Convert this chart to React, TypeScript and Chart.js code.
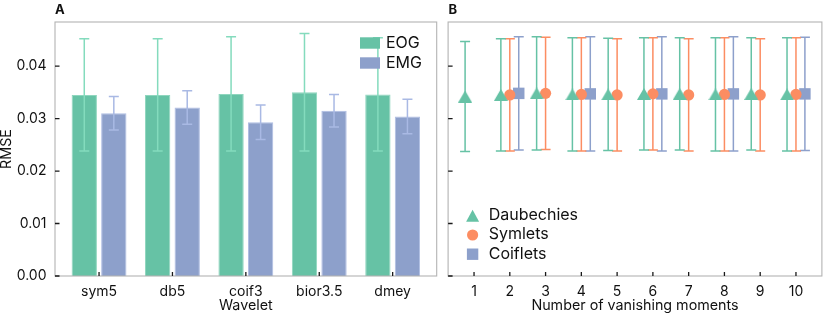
import React, { useEffect, useRef } from "react";
import { Chart, registerables } from "chart.js";

Chart.register(...registerables);

// ---------- data ----------
const wavelets = ["sym5", "db5", "coif3", "bior3.5", "dmey"];
const eogMean = [0.0345, 0.0345, 0.0347, 0.035, 0.0346];
const eogErr = [0.0107, 0.0107, 0.0109, 0.0112, 0.0108];
const emgMean = [0.031, 0.0321, 0.0293, 0.0315, 0.0304];
const emgErr = [0.0032, 0.0032, 0.0033, 0.0031, 0.0033];

const rmseTicks = [0, 0.01, 0.02, 0.03, 0.04];
const momentTicks = [1, 2, 3, 4, 5, 6, 7, 8, 9, 10];

const daubMoments = [1, 2, 3, 4, 5, 6, 7, 8, 9, 10];
const daubMean = [0.0342, 0.0345, 0.0348, 0.0346, 0.0346, 0.0347, 0.0347, 0.0346, 0.0347, 0.0346];
const daubErr = [0.0105, 0.0107, 0.0108, 0.0108, 0.0107, 0.0107, 0.0107, 0.0108, 0.0107, 0.0108];

const symMoments = [2, 3, 4, 5, 6, 7, 8, 9, 10];
const symMean = [0.0345, 0.0348, 0.0346, 0.0345, 0.0347, 0.0345, 0.0346, 0.0345, 0.0346];
const symErr = [0.0107, 0.0107, 0.0108, 0.0107, 0.0107, 0.0107, 0.0108, 0.0107, 0.0108];

const coifMoments = [2, 4, 6, 8, 10];
const coifMean = [0.0348, 0.0347, 0.0347, 0.0347, 0.0347];
const coifErr = [0.0108, 0.0109, 0.0109, 0.0109, 0.0108];

// ---------- style ----------
const FONT = "Inter, 'Noto Sans', 'DejaVu Sans', sans-serif";
const GREEN = "#66c2a5";
const ORANGE = "#fc8d62";
const BLUE = "#8da0cb";
const TEXT = "#111111";
const FRAME = "#b3b3b3";
const DODGE = 0.25;
const Y_MAX = 0.0484;

function drawErrors(chart: any, index: number) {
  const ds: any = chart.data.datasets[index];
  if (!ds.errors) return;
  const meta = chart.getDatasetMeta(index);
  const ys = chart.scales.y;
  const ctx = chart.ctx;
  const cap = ds.capHalf ?? 5;
  ctx.save();
  ctx.strokeStyle = ds.errorColor;
  ctx.lineWidth = 1.5;
  meta.data.forEach((el: any, j: number) => {
    const v = ds.data[j].y;
    const top = ys.getPixelForValue(v + ds.errors[j]);
    const bot = ys.getPixelForValue(v - ds.errors[j]);
    const x = el.x;
    ctx.beginPath();
    ctx.moveTo(x, top);
    ctx.lineTo(x, bot);
    ctx.moveTo(x - cap, top);
    ctx.lineTo(x + cap, top);
    ctx.moveTo(x - cap, bot);
    ctx.lineTo(x + cap, bot);
    ctx.stroke();
  });
  ctx.restore();
}

const errorBarPlugin = {
  id: "errorBars",
  beforeDatasetDraw(chart: any, args: any, opts: any) {
    if (opts && opts.under) drawErrors(chart, args.index);
  },
  afterDatasetDraw(chart: any, args: any, opts: any) {
    if (!opts || !opts.under) drawErrors(chart, args.index);
  },
};

const framePlugin = {
  id: "frame",
  afterDraw(chart: any, _args: any, opts: any) {
    const { ctx, chartArea } = chart;
    const { left, right, top, bottom } = chartArea;
    ctx.save();
    ctx.strokeStyle = FRAME;
    ctx.lineWidth = 1.1;
    ctx.strokeRect(left, top, right - left, bottom - top);
    ctx.strokeStyle = "#1a1a1a";
    ctx.lineWidth = 1.3;
    const xs = chart.scales.x;
    const ys = chart.scales.y;
    ctx.beginPath();
    xs.ticks.forEach((t: any) => {
      const px = xs.getPixelForValue(t.value);
      ctx.moveTo(px, bottom);
      ctx.lineTo(px, bottom - 4);
    });
    ys.ticks.forEach((t: any) => {
      const py = ys.getPixelForValue(t.value);
      ctx.moveTo(left, py);
      ctx.lineTo(left + 4.5, py);
    });
    ctx.stroke();
    // panel letter
    ctx.fillStyle = TEXT;
    ctx.font = `bold 13px ${FONT}`;
    ctx.textBaseline = "alphabetic";
    ctx.textAlign = "left";
    ctx.fillText(opts.letter, left + (opts.letterDx || 0), 13.5);
    ctx.restore();
  },
};

const legendAPlugin = {
  id: "legendA",
  afterDraw(chart: any) {
    const ctx = chart.ctx;
    const items = chart.data.datasets.map((d: any) => ({ label: d.label, color: d.backgroundColor }));
    ctx.save();
    ctx.font = `16px ${FONT}`;
    ctx.textBaseline = "middle";
    ctx.textAlign = "left";
    items.forEach((it: any, i: number) => {
      const cy = 43 + i * 20;
      ctx.fillStyle = it.color;
      ctx.fillRect(360, cy - 5.7, 20, 11.4);
      ctx.fillStyle = TEXT;
      ctx.fillText(it.label, 386, cy + 0.5);
    });
    ctx.restore();
  },
};

const legendBPlugin = {
  id: "legendB",
  afterDraw(chart: any) {
    const ctx = chart.ctx;
    const area = chart.chartArea;
    const mx = area.left + 24.5;
    const tx = area.left + 40.6;
    const rows = [215.8, 235, 254.2];
    ctx.save();
    chart.data.datasets.forEach((d: any, i: number) => {
      const cy = rows[i];
      ctx.fillStyle = d.backgroundColor;
      ctx.beginPath();
      if (d.legendShape === "triangle") {
        ctx.moveTo(mx, cy - 6);
        ctx.lineTo(mx + 6.5, cy + 6);
        ctx.lineTo(mx - 6.5, cy + 6);
        ctx.closePath();
      } else if (d.legendShape === "circle") {
        ctx.arc(mx, cy, 5.6, 0, Math.PI * 2);
      } else {
        ctx.rect(mx - 5.7, cy - 5.7, 11.4, 11.4);
      }
      ctx.fill();
      ctx.fillStyle = TEXT;
      ctx.font = `16px ${FONT}`;
      ctx.textBaseline = "middle";
      ctx.textAlign = "left";
      ctx.fillText(d.label, tx, cy - 0.5);
    });
    ctx.restore();
  },
};

function makeTriangle(color: string) {
  const c = document.createElement("canvas");
  c.width = 14;
  c.height = 12;
  const g = c.getContext("2d")!;
  g.fillStyle = color;
  g.beginPath();
  g.moveTo(7, 0);
  g.lineTo(14, 12);
  g.lineTo(0, 12);
  g.closePath();
  g.fill();
  return c;
}

export default function App() {
  const refA = useRef<HTMLCanvasElement | null>(null);
  const refB = useRef<HTMLCanvasElement | null>(null);

  useEffect(() => {
    const tickFont = { family: FONT, size: 14, lineHeight: 1.2 };
    const titleFont = { family: FONT, size: 14.3, lineHeight: 1.0 };

    const chartA = new Chart(refA.current!, {
      type: "bar",
      data: {
        datasets: [
          {
            label: "EOG",
            data: wavelets.map((_, i) => ({ x: i, y: eogMean[i] })),
            backgroundColor: GREEN,
            borderColor: "#8fd6be",
            borderWidth: 1,
            categoryPercentage: 0.805,
            barPercentage: 0.857,
            errors: eogErr,
            errorColor: "#84dbbd",
            capHalf: 5,
          } as any,
          {
            label: "EMG",
            data: wavelets.map((_, i) => ({ x: i, y: emgMean[i] })),
            backgroundColor: BLUE,
            borderColor: "#aebde3",
            borderWidth: 1,
            categoryPercentage: 0.805,
            barPercentage: 0.857,
            errors: emgErr,
            errorColor: "#a9b9e4",
            capHalf: 5,
          } as any,
        ],
      },
      options: {
        animation: false,
        responsive: false,
        maintainAspectRatio: false,
        layout: { padding: { left: 0, right: 5.3, top: 22, bottom: 0 } },
        plugins: {
          legend: { display: false },
          tooltip: { enabled: false },
          errorBars: { under: false },
          frame: { letter: "A", letterDx: 0 },
        } as any,
        scales: {
          x: {
            type: "linear",
            offset: false,
            min: -0.6,
            max: 4.6,
            afterBuildTicks: (s: any) => {
              s.ticks = wavelets.map((_, i) => ({ value: i }));
            },
            ticks: {
              callback: (v: any) => wavelets[Math.round(Number(v))],
              font: tickFont,
              color: TEXT,
              padding: 7,
              maxRotation: 0,
              autoSkip: false,
            },
            grid: { display: false, drawTicks: false },
            border: { display: false },
            title: { display: true, text: "Wavelet", font: titleFont, color: TEXT, padding: { top: 0, bottom: 1.4 } },
            afterFit: (s: any) => {
              s.height = 38;
            },
          },
          y: {
            min: 0,
            max: Y_MAX,
            afterBuildTicks: (s: any) => {
              s.ticks = rmseTicks.map((v) => ({ value: v }));
            },
            ticks: {
              callback: (v: any) => Number(v).toFixed(2),
              font: tickFont,
              color: TEXT,
              padding: 8.5,
            },
            grid: { display: false, drawTicks: false },
            border: { display: false },
            title: { display: true, text: "RMSE", font: titleFont, color: TEXT, padding: { top: 0, bottom: 0 } },
            afterFit: (s: any) => {
              s.width = 55;
            },
          },
        },
      } as any,
      plugins: [errorBarPlugin, framePlugin, legendAPlugin],
    });

    const tri = makeTriangle(GREEN);
    const chartB = new Chart(refB.current!, {
      type: "scatter",
      data: {
        datasets: [
          {
            label: "Daubechies",
            data: daubMoments.map((n, i) => ({ x: n - DODGE, y: daubMean[i] })),
            backgroundColor: GREEN,
            pointStyle: tri,
            pointRadius: 7,
            borderWidth: 0,
            errors: daubErr,
            errorColor: GREEN,
            capHalf: 5,
            legendShape: "triangle",
          } as any,
          {
            label: "Symlets",
            data: symMoments.map((n, i) => ({ x: n, y: symMean[i] })),
            backgroundColor: ORANGE,
            pointStyle: "circle",
            pointRadius: 5.6,
            borderWidth: 0,
            errors: symErr,
            errorColor: ORANGE,
            capHalf: 5,
            legendShape: "circle",
          } as any,
          {
            label: "Coiflets",
            data: coifMoments.map((n, i) => ({ x: n + DODGE, y: coifMean[i] })),
            backgroundColor: BLUE,
            pointStyle: "rect",
            pointRadius: 8.1,
            borderWidth: 0,
            errors: coifErr,
            errorColor: BLUE,
            capHalf: 5,
            legendShape: "rect",
          } as any,
        ],
      },
      options: {
        animation: false,
        responsive: false,
        maintainAspectRatio: false,
        layout: { padding: { left: 0, right: 1.3, top: 22, bottom: 0 } },
        plugins: {
          legend: { display: false },
          tooltip: { enabled: false },
          errorBars: { under: true },
          frame: { letter: "B", letterDx: 0.5 },
        } as any,
        scales: {
          x: {
            type: "linear",
            min: 0.275,
            max: 10.725,
            afterBuildTicks: (s: any) => {
              s.ticks = momentTicks.map((v) => ({ value: v }));
            },
            ticks: {
              callback: (v: any) => String(Math.round(Number(v))),
              font: tickFont,
              color: TEXT,
              padding: 7,
              maxRotation: 0,
              autoSkip: false,
            },
            grid: { display: false, drawTicks: false },
            border: { display: false },
            title: {
              display: true,
              text: "Number of vanishing moments",
              font: titleFont,
              color: TEXT,
              padding: { top: 0, bottom: 1.4 },
            },
            afterFit: (s: any) => {
              s.height = 38;
            },
          },
          y: {
            min: 0,
            max: Y_MAX,
            afterBuildTicks: (s: any) => {
              s.ticks = rmseTicks.map((v) => ({ value: v }));
            },
            ticks: { display: false },
            grid: { display: false, drawTicks: false },
            border: { display: false },
            afterFit: (s: any) => {
              s.width = 7.7;
            },
          },
        },
      } as any,
      plugins: [errorBarPlugin, framePlugin, legendBPlugin],
    });

    return () => {
      chartA.destroy();
      chartB.destroy();
    };
  }, []);

  return (
    <div
      style={{
        position: "fixed",
        left: 0,
        top: 0,
        width: 830,
        height: 314,
        background: "#ffffff",
        overflow: "hidden",
      }}
    >
      <canvas
        ref={refA}
        width={442}
        height={314}
        style={{ position: "absolute", left: 0, top: 0, width: 442, height: 314 }}
      />
      <canvas
        ref={refB}
        width={390}
        height={314}
        style={{ position: "absolute", left: 440, top: 0, width: 390, height: 314 }}
      />
    </div>
  );
}
